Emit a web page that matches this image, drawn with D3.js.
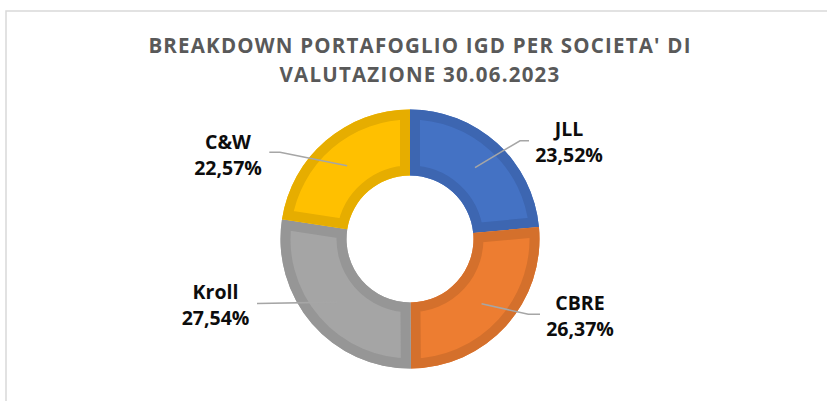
<!DOCTYPE html>
<html>
<head>
<meta charset="utf-8">
<script src="https://cdn.jsdelivr.net/npm/d3@7"></script>
<style>
html,body{margin:0;padding:0;background:#fff;}
svg{display:block;}
</style>
</head>
<body>
<svg id="chart" width="827" height="401"></svg>
<script>
// ---- data ----
const categories = ["JLL", "CBRE", "Kroll", "C&W"];
const values = [23.52, 26.37, 27.54, 22.57];
const valueLabels = ["23,52%", "26,37%", "27,54%", "22,57%"];
const titleLines = ["BREAKDOWN PORTAFOGLIO IGD PER SOCIETA' DI", "VALUTAZIONE 30.06.2023"];

// ---- style / layout ----
const fills = ["#4472C4", "#ED7D31", "#A5A5A5", "#FFC000"];
const borders = ["#3D66B1", "#D4702C", "#969696", "#E6AD00"];
const labelLayout = [
  {elbow:[520,140.7], end:[529,140.7], tx:569, ty:136},
  {elbow:[528.3,314.3], end:[540,314.3], tx:580, ty:310},
  {elbow:null, end:[257,303.5], tx:215.5, ty:299},
  {elbow:[280,152.3], end:[269.3,152.3], tx:228, ty:149}
];

const svg = d3.select("#chart");
const W = 827, H = 401;

// frame
svg.append("path")
  .attr("d", `M6,${H+2} L6,11 L${W+2},11`)
  .attr("fill", "none")
  .attr("stroke", "#D9D9D9")
  .attr("stroke-width", 1.5);

// title
const title = svg.append("g").attr("font-family", "'Open Sans', sans-serif")
  .attr("font-weight", 700).attr("font-size", 20.5).attr("fill", "#595959");
const titleY = [53, 82];
const targetW = 542;
titleLines.forEach((t, i) => {
  title.append("text").attr("x", 420).attr("y", titleY[i])
    .attr("text-anchor", "middle").text(t);
});
{
  const t0 = title.select("text").node();
  const w0 = t0.getComputedTextLength();
  const n = titleLines[0].length;
  const ls = (targetW - w0) / (n - 1);
  title.selectAll("text").attr("letter-spacing", ls.toFixed(2));
}

// donut
const cx = 410, cy = 239, rOuter = 129.5, rInner = 63.5, band = 10;
const pie = d3.pie().sort(null).value(d => d)(values);
const arc = d3.arc().innerRadius(rInner).outerRadius(rOuter);
const g = svg.append("g").attr("transform", `translate(${cx},${cy})`);
const defs = svg.append("defs");
pie.forEach((p, i) => {
  defs.append("clipPath").attr("id", "clip" + i)
    .append("path").attr("d", arc(p));
  g.append("path").attr("d", arc(p)).attr("fill", fills[i]);
  g.append("path").attr("d", arc(p))
    .attr("fill", "none")
    .attr("stroke", borders[i])
    .attr("stroke-width", band * 2)
    .attr("stroke-linejoin", "miter")
    .attr("clip-path", `url(#clip${i})`);
});

// leader lines & labels
const midArc = d3.arc().innerRadius((rInner + rOuter) / 2).outerRadius((rInner + rOuter) / 2);
pie.forEach((p, i) => {
  const c = midArc.centroid(p);
  const start = [cx + c[0], cy + c[1]];
  const L = labelLayout[i];
  const pts = [start];
  if (L.elbow) pts.push(L.elbow);
  pts.push(L.end);
  svg.append("path")
    .attr("d", d3.line()(pts))
    .attr("fill", "none")
    .attr("stroke", "#A6A6A6")
    .attr("stroke-width", 1.6);
  const t = svg.append("text")
    .attr("font-family", "'Open Sans', sans-serif")
    .attr("font-weight", 700).attr("font-size", 19.5)
    .attr("fill", "#0D0D0D").attr("text-anchor", "middle");
  t.append("tspan").attr("x", L.tx).attr("y", L.ty).text(categories[i]);
  t.append("tspan").attr("x", L.tx).attr("y", L.ty + 26).text(valueLabels[i]);
});
</script>
</body>
</html>
